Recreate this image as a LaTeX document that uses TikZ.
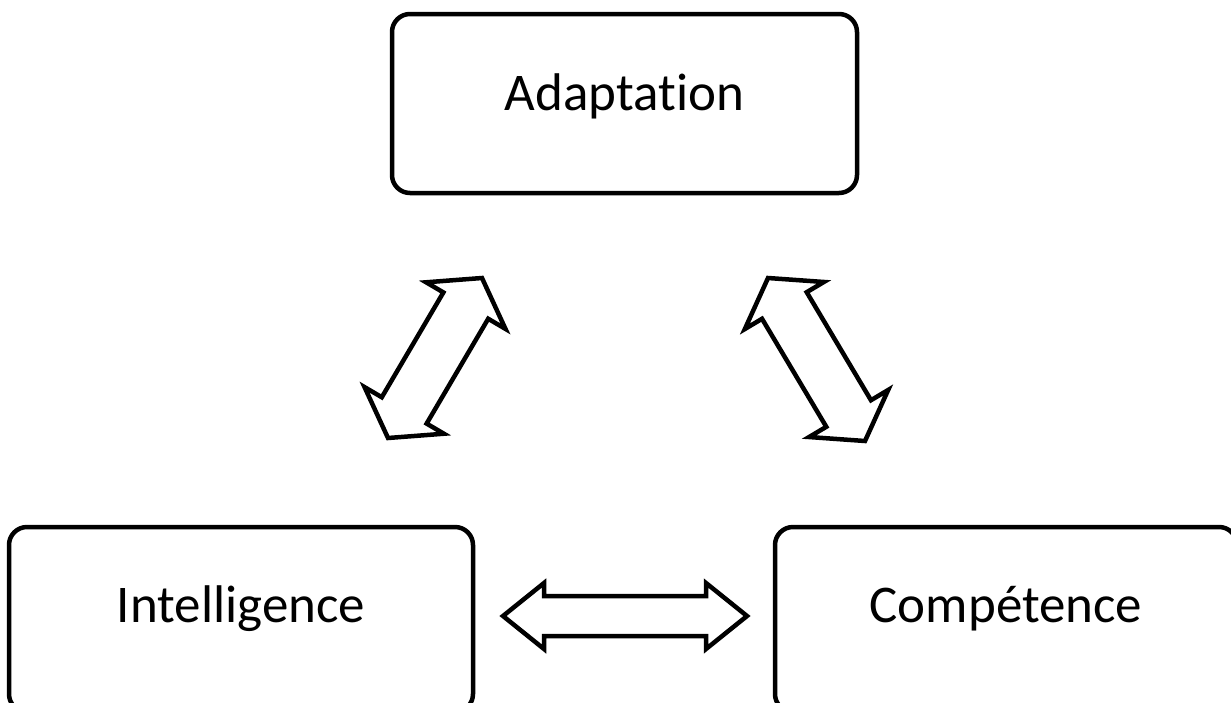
\documentclass[tikz,border=0pt]{standalone}
\usepackage{fontspec}
\setmainfont[Ligatures=NoCommon]{Carlito}
\usetikzlibrary{calc}

\tikzset{
  box/.style={draw, line width=4.5pt, rounded corners=18pt, fill=white,
    font=\fontsize{53}{60}\selectfont, text height=37pt, text depth=23pt,
    inner sep=0pt},
  lowbox/.style={box, text height=33pt, text depth=27pt},
  blockarrow/.style={draw, line width=4.5pt, fill=white, line join=miter, miter limit=10}
}

% double-headed block arrow from #1 to #2:
% shaft half-width #3, head half-width #4, head length #5
\newcommand{\dblblock}[5]{%
  \draw[blockarrow] (#1)
    -- ($(#1)!#5!(#2)!#4!90:(#2)$)
    -- ($(#1)!#5!(#2)!#3!90:(#2)$)
    -- ($(#2)!#5!(#1)!#3!-90:(#1)$)
    -- ($(#2)!#5!(#1)!#4!-90:(#1)$)
    -- (#2)
    -- ($(#2)!#5!(#1)!#4!90:(#1)$)
    -- ($(#2)!#5!(#1)!#3!90:(#1)$)
    -- ($(#1)!#5!(#2)!#3!-90:(#2)$)
    -- ($(#1)!#5!(#2)!#4!-90:(#2)$)
    -- cycle;}

\begin{document}
\begin{tikzpicture}[x=1pt, y=-1pt]
  \useasboundingbox (0,0) rectangle (1231,702);
  \clip (0,0) rectangle (1231,702);

  % the three concepts
  \node[box, minimum width=465pt, minimum height=179pt] (adapt) at (624.5,103.5) {Adaptation};
  \node[lowbox, minimum width=464pt, minimum height=185pt] (intel) at (241,619.5) {Intelligence};
  \node[lowbox, minimum width=462pt, minimum height=185pt] (comp) at (1006,619.5) {Compétence};

  % arrow end points
  \coordinate (la) at (388,438);
  \coordinate (lb) at (482,278);
  \coordinate (ra) at (768,278);
  \coordinate (rb) at (865,441);
  \coordinate (ha) at (503,616);
  \coordinate (hb) at (747,616);

  % two-way links between the concepts
  \dblblock{la}{lb}{26pt}{46pt}{32pt}
  \dblblock{ra}{rb}{26pt}{46pt}{32pt}
  \dblblock{ha}{hb}{20pt}{33pt}{41pt}
\end{tikzpicture}
\end{document}
